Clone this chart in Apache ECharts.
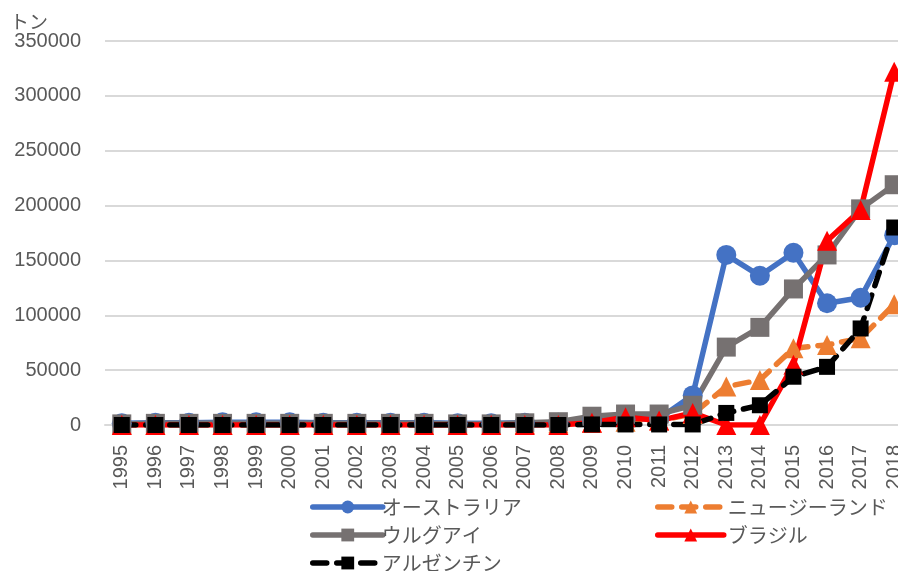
<!DOCTYPE html>
<html>
<head>
<meta charset="utf-8">
<script src="https://cdn.jsdelivr.net/npm/echarts@6/dist/echarts.min.js"></script>
<style>
html,body{margin:0;padding:0;background:#fff;}
#main{width:898px;height:571px;}
</style>
</head>
<body>
<div id="main"></div>
<script>
const years = ['1995','1996','1997','1998','1999','2000','2001','2002','2003','2004','2005','2006','2007','2008','2009','2010','2011','2012','2013','2014','2015','2016','2017','2018'];
const seriesNames = ['オーストラリア','ニュージーランド','ウルグアイ','ブラジル','アルゼンチン'];
const australia = [1500,2000,2000,2500,2500,2500,2000,2000,2000,2000,1500,1500,2000,2000,4000,5000,6000,27000,155000,136000,157000,111000,116000,173000];
const newZealand = [500,500,500,500,500,500,500,500,500,500,500,500,1000,1500,2000,3000,4000,10000,35000,41000,70000,73000,79000,110000];
const uruguay = [1000,1500,1500,1500,1500,1500,1500,1500,1500,1500,1000,1000,2000,3000,8000,10000,10000,18000,71000,89000,124000,155000,197000,219000];
const brazil = [0,0,0,0,0,0,0,0,0,0,0,0,0,0,2000,7000,4000,11000,0,0,55000,168000,196000,322000];
const argentina = [0,0,0,0,0,0,0,0,0,0,0,0,0,0,500,500,500,500,11000,18000,44000,53000,88000,180000];
const yTicks = {min:0, max:350000, interval:50000};

const font = '"Liberation Sans", "Noto Sans CJK JP", sans-serif';
const jpFont = '"Noto Sans CJK JP", sans-serif';
const txt = '#595959';

function mk(name, data, color, symbol, size, dash){
  return {
    name: name, type:'line', data: data,
    symbol: symbol, symbolSize: size,
    lineStyle:{color:color, width:5.5, type: dash || 'solid', cap:'round'},
    itemStyle:{color:color},
    emphasis:{disabled:true},
    animation:false
  };
}
function lg(name, left, top, w, pad){
  return {
    name: name, left:left, top:top, orient:'horizontal',
    itemWidth:w, itemHeight:16, itemGap:0,
    lineStyle:{width:5.5},
    textStyle:{fontFamily:jpFont, fontSize:20, color:txt, padding:[0,0,0,pad]},
    selectedMode:false, data:[name]
  };
}

const chart = echarts.init(document.getElementById('main'), null, {renderer:'canvas'});
chart.setOption({
  backgroundColor:'#fff',
  animation:false,
  grid:{left:105, right:-13, top:41, bottom:146, containLabel:false, outerBoundsMode:'none'},
  xAxis:{
    type:'category', data: years, boundaryGap:true,
    axisLine:{show:true, lineStyle:{color:'#d9d9d9', width:2}},
    axisTick:{show:false},
    axisLabel:{rotate:90, color:txt, fontSize:20, fontFamily:font, margin:20, interval:0}
  },
  yAxis:{
    type:'value', min:yTicks.min, max:yTicks.max, interval:yTicks.interval,
    name:'トン', nameLocation:'end', nameGap:6,
    nameTextStyle:{fontFamily:jpFont, fontSize:19, color:txt, align:'left', padding:[0,0,-14,-95]},
    axisLine:{show:false}, axisTick:{show:false},
    splitLine:{lineStyle:{color:'#d9d9d9', width:2}},
    axisLabel:{color:txt, fontSize:20, fontFamily:font, margin:24, formatter: v => String(v)}
  },
  legend:[
    lg(seriesNames[0], 305, 492, 70, -6),
    lg(seriesNames[2], 305, 520, 70, -6),
    lg(seriesNames[4], 305, 548, 70, -6),
    lg(seriesNames[1], 650, 492, 66, -1),
    lg(seriesNames[3], 650, 520, 66, -1)
  ],
  series:[
    mk(seriesNames[0], australia, '#4472c4', 'circle', 20),
    mk(seriesNames[1], newZealand, '#ed7d31', 'triangle', 20, [14,10]),
    mk(seriesNames[2], uruguay, '#767171', 'rect', 19),
    mk(seriesNames[3], brazil, '#ff0000', 'triangle', 20),
    mk(seriesNames[4], argentina, '#000000', 'rect', 16, [14,10])
  ]
});
</script>
</body>
</html>
